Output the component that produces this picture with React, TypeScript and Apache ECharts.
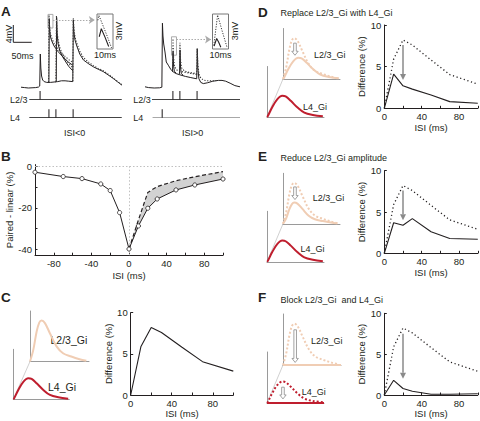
import React, { useEffect, useRef } from "react";
import * as echarts from "echarts";

const FONT = "'Liberation Sans', Arial, Helvetica, sans-serif";
const INK = "#231f20";
const PEACH = "#f0cdb4";
const RED = "#bf1e2e";
const GREY = "#9a9a9a";
const ARROW = "#8a8a8a";

// ---------- Panel A: stimulus times (ms) ----------
const aLeftL23Stim = [52];
const aLeftL4Stim = [76, 95, 142];
const aRightL4Stim = [47];
const aRightL23Stim = [76, 95, 142];

// ---------- Panel A: traces [time ms, mV] ----------
const aLeftPairedMain = [[0,0.2],[10,0.1],[20,0],[30,0.05],[40,0.1],[48,0.25],[51,0.5],[52.5,8.5],[54,5],[56,3],[59,2],[63,1.6],[70,1.4],[80,1.4],[90,1.5],[100,1.6],[110,1.8],[120,1.8],[130,1.7],[141,1.6],[142.5,17],[144,14],[147,12],[152,10.5],[160,8.5],[170,7],[185,6],[197,5.3],[210,4.7],[224,4.1],[240,3.1],[251,2.4],[262,1.6],[275,0.7]];
const aLeftPairedIsi1 = [[74,1.4],[76,1.5],[77,17.3],[78.5,14],[81,12.5],[85,11.5],[90,10.5],[100,9.2],[110,8.2],[120,7.2],[130,6.4],[141,5.7]];
const aLeftPairedIsi2 = [[94,1.5],[96,1.6],[97,17.6],[98.5,13.5],[101,11],[106,9.2],[112,8],[120,6.8],[130,5.4],[141,4.3]];
const aLeftLinearIsi1 = [[75,1.5],[76.3,18.2],[78,15],[81,13.3],[85,12.2],[90,11.2],[100,9.8],[110,8.8],[120,7.9],[130,7.1],[141,6.4]];
const aLeftLinearIsi2 = [[95,1.6],[96.5,18.1],[98,14.5],[101,12],[106,10],[112,8.6],[120,7.3],[130,6.1],[141,5.1]];
const aLeftLinearIsi3 = [[141,1.7],[142.3,17.6],[144,15],[147,12.8],[152,11.2],[160,9.2],[170,7.6],[185,6.4],[197,5.6],[210,4.9],[224,4.3],[240,3.3],[251,2.5],[262,1.7],[275,0.8]];
const aLeftInsetPaired = [[1.4,3.5],[2.7,5.8],[5,3.4],[7.3,0.7]];
const aLeftInsetLinear = [[0.5,8.2],[1.2,9.6],[4,6.4],[6.5,3.5],[9.1,0.3]];

const aRightPairedMain = [[0,0.3],[10,0.1],[25,0],[40,0.05],[46,0.2],[47.5,16.2],[49,13],[51,11],[54.5,9],[58,6.5],[63.5,5.7],[70,4.7],[77,4],[85,3.6],[95,3.3],[110,2.9],[125,2.6],[141,2.3],[142.5,9.8],[144,5],[147,2.3],[152,1.4],[159,1.1],[170,1.3],[185,1.7],[200,1.9],[210,1.9],[220,1.7],[232,1.2],[245,0.6],[259,0.3]];
const aRightPairedIsi1 = [[75,4.1],[76.5,9],[78,5.5],[80,4.2],[85,3.7]];
const aRightPairedIsi2 = [[94,3.4],[95.5,9.5],[97,5],[99,3.6],[104,3.2]];
const aRightLinearIsi1 = [[75,4.1],[76.3,12.3],[78,7.5],[81,5.2],[88,4.4],[100,4.1],[115,3.8],[130,3.6],[141,3.4]];
const aRightLinearIsi2 = [[94,3.5],[95.3,11.3],[97,7],[100,5],[108,4.2],[120,3.9],[141,3.6]];
const aRightLinearIsi3 = [[141,3.3],[142.3,10],[144,6],[147,3.5],[152,2.5],[159,2],[170,1.8],[185,1.8],[200,1.9]];
const aRightInsetPaired = [[1,0.8],[2.6,3],[3.8,2],[5.2,0.5]];
const aRightInsetLinear = [[0.8,1],[3.2,9.7],[6,5.2],[9.2,0.3]];

// ---------- Panel B ----------
const bIsi = [-100, -70, -50, -30, -20, -10, 0, 10, 20, 30, 50, 70, 100];
const bPaired = [-2.7, -4.8, -5.8, -8.4, -11.6, -22.3, -40, -28.8, -20.2, -15.7, -11.3, -8.9, -6];
const bIsiPos = [0, 10, 20, 30, 50, 70, 100];
const bNoL23 = [-40, -25.9, -12.5, -9.7, -6.8, -4.9, -2.4];
const bYTicks = [-40, -30, -20, -10, 0];
const bYLabels = [-40, -20, 0];

// ---------- Panels C-F: difference (%) ----------
const diffIsi = [0, 10, 20, 30, 50, 70, 100];
const diffControl = [0, 5.9, 8.2, 7.6, 5.8, 4.05, 2.9];
const diffReplace = [0, 4.1, 2.7, 2.3, 1.6, 0.8, 0.6];
const diffReduce = [0, 3.7, 3.4, 4.2, 2.6, 1.8, 1.7];
const diffBlock = [0, 1.8, 0.8, 0.45, 0.1, 0.1, 0.15];
// arrows: [isi, from, to]
const arrowD = [[20, 7.6, 3.4]];
const arrowE = [[20, 7.6, 4.0]];
const arrowF = [[20, 7.5, 2.0]];

// ---------- inhibitory conductance sketches [t, amplitude] ----------
const l23Gi = [[0,0],[5.6,23],[11.2,59],[15.7,77],[19.7,81],[25.3,76],[33.7,56],[45,30],[56,16.4],[70,9.9],[84,4.6],[95.5,1.3]];
const l23GiReduced = [[0,0],[5.6,11],[11.2,29],[15.7,39],[19.7,42],[25.3,40],[33.7,30],[45,16],[56,9],[70,5.4],[84,2.5],[95.5,0.7]];
const l4Gi = [[0,0],[1.2,1.3],[8.9,18.7],[17.9,35],[26.8,42],[32.7,40.7],[41.7,32],[53.6,18.7],[65.5,8.7],[80.4,4],[98,1.3]];
const blockedGi = [[0,0],[100,0]];
const insetArrowD = [[21, 71, 47]];
const insetArrowE = [[21, 73, 48]];
const insetArrowF = [[21, 69, 5]];
const insetArrowFLow = [[28, 31, 8]];

function buildOption() {
  const grids: any[] = [];
  const xAxes: any[] = [];
  const yAxes: any[] = [];
  const series: any[] = [];
  const graphics: any[] = [];

  const addGrid = (rect: any, xa: any, ya: any, gridExtra: any = {}) => {
    const i = grids.length;
    grids.push({ ...rect, containLabel: false, outerBoundsMode: "none", show: false, ...gridExtra });
    xAxes.push({ type: "value", gridIndex: i, ...xa });
    yAxes.push({ type: "value", gridIndex: i, ...ya });
    return i;
  };
  const hidden = (min: number, max: number, extra: any = {}) => ({ min, max, show: false, ...extra });
  const insetAxis = (min: number, max: number) => ({
    min, max, show: true,
    axisLine: { show: true, onZero: false, lineStyle: { color: GREY, width: 1 } },
    axisTick: { show: false }, axisLabel: { show: false }, splitLine: { show: false },
  });
  const line = (idx: number, data: any, color: string, width: number, type: any, z = 2, smooth: any = false) => ({
    type: "line", xAxisIndex: idx, yAxisIndex: idx, data, symbol: "none", showSymbol: false,
    silent: true, smooth, z, lineStyle: { color, width, type },
  });
  const text = (x: number, y: number, t: string, size: number, extra: any = {}, styleExtra: any = {}) => {
    graphics.push({
      type: "text", x, y, silent: true, ...extra,
      style: { text: t, fontSize: size, fontFamily: FONT, fill: INK, align: "left", verticalAlign: "middle", ...styleExtra },
    });
  };
  const gline = (x1: number, y1: number, x2: number, y2: number, stroke: string, w: number) => {
    graphics.push({ type: "line", silent: true, shape: { x1, y1, x2, y2 }, style: { stroke, lineWidth: w } });
  };
  const arrowSeries = (idx: number, arrows: any, hollow: boolean) => ({
    type: "custom", xAxisIndex: idx, yAxisIndex: idx, silent: true, z: 10,
    data: arrows, encode: { x: 0, y: [1, 2] },
    renderItem: (_p: any, api: any) => {
      const a = api.coord([api.value(0), api.value(1)]);
      const b = api.coord([api.value(0), api.value(2)]);
      const x = a[0], y1 = a[1], y2 = b[1];
      if (hollow) {
        const sw = 1.3, hw = 3.2, hl = 4;
        return {
          type: "polygon",
          shape: { points: [[x - sw, y1], [x + sw, y1], [x + sw, y2 - hl], [x + hw, y2 - hl], [x, y2], [x - hw, y2 - hl], [x - sw, y2 - hl]] },
          style: { fill: "#fff", stroke: ARROW, lineWidth: 0.8 },
        };
      }
      const hw = 3, hl = 6;
      return {
        type: "group",
        children: [
          { type: "line", shape: { x1: x, y1, x2: x, y2: y2 - hl }, style: { stroke: ARROW, lineWidth: 1.5 } },
          { type: "polygon", shape: { points: [[x - hw, y2 - hl], [x + hw, y2 - hl], [x, y2]] }, style: { fill: ARROW } },
        ],
      };
    },
  });

  // ================= Panel A =================
  const traceY = hidden(-0.5, 18.5);
  const aL = addGrid({ left: 21, top: 14, width: 101, height: 76 }, hidden(0, 275), traceY);
  series.push(line(aL, aLeftPairedMain, INK, 1, "solid", 2));
  series.push(line(aL, aLeftPairedIsi1, INK, 1, "solid", 2));
  series.push(line(aL, aLeftPairedIsi2, INK, 1, "solid", 2));
  series.push({
    ...line(aL, aLeftLinearIsi1, "#3a3a3a", 1.1, [1.2, 1.6], 3),
    markArea: { silent: true, itemStyle: { color: "rgba(0,0,0,0)", borderColor: "#aaa", borderWidth: 1 }, data: [[{ coord: [73.5, 18.4] }, { coord: [87, 15] }]] },
    markLine: { silent: true, symbol: ["none", "arrow"], symbolSize: 6, label: { show: false }, lineStyle: { color: "#aaa", type: [1.5, 1.5], width: 1 }, data: [[{ coord: [87, 17] }, { coord: [201, 17] }]] },
  });
  series.push(line(aL, aLeftLinearIsi2, "#3a3a3a", 1.1, [1.2, 1.6], 3));
  series.push(line(aL, aLeftLinearIsi3, "#3a3a3a", 1.1, [1.2, 1.6], 3));

  const aLi = addGrid({ left: 97, top: 14, width: 16, height: 35 }, hidden(0, 10), hidden(0, 10), { show: true, borderColor: "#777", borderWidth: 1, backgroundColor: "#fff" });
  series.push(line(aLi, aLeftInsetLinear, "#3a3a3a", 1, [1.2, 1.4], 3));
  series.push(line(aLi, aLeftInsetPaired, INK, 1.1, "solid", 3));

  const rasterY = { min: 0, max: 28, inverse: true, show: false };
  const aLr = addGrid({ left: 21, top: 90, width: 101, height: 28 }, hidden(0, 275), rasterY);
  const rasterRows = (idx: number, l23: number[], l4: number[], l23Range: number[], l4Range: number[], l4Color: string) => {
    series.push(line(idx, [[l23Range[0], 9.5], [l23Range[1], 9.5]], "#444", 1, "solid", 2));
    series.push(line(idx, [[l4Range[0], 27.5], [l4Range[1], 27.5]], l4Color, 1, "solid", 2));
    series.push({
      type: "scatter", xAxisIndex: idx, yAxisIndex: idx, silent: true, symbol: "rect", symbolSize: [1.3, 8.5],
      itemStyle: { color: INK }, data: [...l23.map((t) => [t, 5.25]), ...l4.map((t) => [t, 23.5])], z: 3,
    });
  };
  rasterRows(aLr, aLeftL23Stim, aLeftL4Stim, [22.6, 274.4], [22.6, 274.4], "#444");

  const aR = addGrid({ left: 145, top: 14, width: 95, height: 76 }, hidden(0, 259), traceY);
  series.push(line(aR, aRightPairedMain, INK, 1, "solid", 2));
  series.push(line(aR, aRightPairedIsi1, INK, 1, "solid", 2));
  series.push(line(aR, aRightPairedIsi2, INK, 1, "solid", 2));
  series.push({
    ...line(aR, aRightLinearIsi1, "#3a3a3a", 1.1, [1.2, 1.6], 3),
    markArea: { silent: true, itemStyle: { color: "rgba(0,0,0,0)", borderColor: "#aaa", borderWidth: 1 }, data: [[{ coord: [72.2, 12.8] }, { coord: [85.8, 8.2] }]] },
    markLine: { silent: true, symbol: ["none", "arrow"], symbolSize: 6, label: { show: false }, lineStyle: { color: "#aaa", type: [1.5, 1.5], width: 1 }, data: [[{ coord: [85.8, 12.1] }, { coord: [180, 12.1] }]] },
  });
  series.push(line(aR, aRightLinearIsi2, "#3a3a3a", 1.1, [1.2, 1.6], 3));
  series.push(line(aR, aRightLinearIsi3, "#3a3a3a", 1.1, [1.2, 1.6], 3));

  const aRi = addGrid({ left: 212.5, top: 14, width: 16, height: 35 }, hidden(0, 10), hidden(0, 10), { show: true, borderColor: "#777", borderWidth: 1, backgroundColor: "#fff" });
  series.push(line(aRi, aRightInsetLinear, "#3a3a3a", 1, [1.2, 1.4], 3));
  series.push(line(aRi, aRightInsetPaired, INK, 1.1, "solid", 3));

  const aRr = addGrid({ left: 145, top: 90, width: 95, height: 28 }, hidden(0, 259), rasterY);
  rasterRows(aRr, aRightL23Stim, aRightL4Stim, [19, 259], [20.7, 259], "#a8a8a8");

  // ================= Panel B =================
  const tickFont = { fontSize: 9.5, color: INK, fontFamily: FONT };
  const bIdx = addGrid(
    { left: 35, top: 164.6, width: 188, height: 90.6 },
    {
      min: -100, max: 100, interval: 20,
      name: "ISI (ms)", nameLocation: "middle", nameGap: 15, nameTextStyle: tickFont,
      axisLine: { onZero: false, lineStyle: { color: INK, width: 1 } },
      axisTick: { inside: true, length: 2.5, lineStyle: { color: INK } },
      axisLabel: { ...tickFont, margin: 3, formatter: (v: number) => (v % 40 === 0 ? String(v) : "") },
      splitLine: { show: false },
    },
    {
      min: -43, max: 1,
      name: "Paired - linear (%)", nameLocation: "middle", nameGap: 19, nameTextStyle: tickFont,
      axisLine: { onZero: false, lineStyle: { color: INK, width: 1 } },
      axisTick: { inside: true, length: 2.5, lineStyle: { color: INK }, customValues: bYTicks },
      axisLabel: { ...tickFont, margin: 3, customValues: bYLabels },
      splitLine: { show: false },
    }
  );
  series.push({
    type: "custom", xAxisIndex: bIdx, yAxisIndex: bIdx, silent: true, z: 1, data: [[0, 0]],
    renderItem: (_p: any, api: any) => {
      const pts: number[][] = [];
      bIsiPos.forEach((x, i) => pts.push(api.coord([x, bNoL23[i]])));
      for (let i = bIsi.length - 1; i >= 0; i--) {
        if (bIsi[i] >= 0) pts.push(api.coord([bIsi[i], bPaired[i]]));
      }
      return { type: "polygon", shape: { points: pts }, style: { fill: "#d2d2d2", stroke: "none" } };
    },
  });
  series.push({
    ...line(bIdx, bIsiPos.map((x, i) => [x, bNoL23[i]]), INK, 1.2, [4, 2.5], 3),
  });
  series.push({
    type: "line", xAxisIndex: bIdx, yAxisIndex: bIdx, silent: true, z: 4,
    data: bIsi.map((x, i) => [x, bPaired[i]]),
    symbol: "circle", symbolSize: 4.2, showSymbol: true,
    lineStyle: { color: INK, width: 1 },
    itemStyle: { color: "#fff", borderColor: INK, borderWidth: 0.8 },
    markLine: {
      silent: true, symbol: "none", label: { show: false }, z: 1,
      lineStyle: { color: "#c0c0c0", type: [1.5, 2], width: 1 },
      data: [{ yAxis: 0 }, { xAxis: 0 }],
    },
  });

  // ================= Panels C-F =================
  const diffX = (extra: any = {}) => ({
    min: 0, max: 100, interval: 20,
    name: "ISI (ms)", nameLocation: "middle", nameGap: 13, nameTextStyle: tickFont,
    axisLine: { onZero: false, lineStyle: { color: INK, width: 1 } },
    axisTick: { inside: true, length: 2.5, lineStyle: { color: INK } },
    axisLabel: { ...tickFont, margin: 3, formatter: (v: number) => (v % 40 === 0 ? String(v) : "") },
    splitLine: { show: false }, ...extra,
  });
  const diffY = () => ({
    min: 0, max: 10, interval: 5,
    name: "Difference (%)", nameLocation: "middle", nameGap: 15, nameTextStyle: tickFont,
    axisLine: { onZero: false, lineStyle: { color: INK, width: 1 } },
    axisTick: { inside: true, length: 2.5, lineStyle: { color: INK } },
    axisLabel: { ...tickFont, margin: 3 },
    splitLine: { show: false },
  });
  const diffSeries = (idx: number, values: number[], dotted: boolean) =>
    line(idx, diffIsi.map((x, i) => [x, values[i]]), INK, dotted ? 1.3 : 1.1, dotted ? [1.2, 2.6] : "solid", dotted ? 2 : 3);

  const insetPair = (upper: any, lower: any, upperSeries: any[], lowerSeries: any[], arrowsUp: any, arrowsLow: any) => {
    const u = addGrid({ left: upper[0], top: upper[1], width: upper[2], height: upper[3] }, insetAxis(0, 100), insetAxis(0, 100));
    const l = addGrid({ left: lower[0], top: lower[1], width: lower[2], height: lower[3] }, insetAxis(0, 100), insetAxis(0, 100));
    upperSeries.forEach((s) => series.push(line(u, s.data, PEACH, 2, s.dotted ? [2, 2] : "solid", s.dotted ? 3 : 4, 0.35)));
    lowerSeries.forEach((s) => series.push(line(l, s.data, RED, 2, s.dotted ? [2, 2] : "solid", s.dotted ? 3 : 4, 0.35)));
    if (arrowsUp) series.push(arrowSeries(u, arrowsUp, true));
    if (arrowsLow) series.push(arrowSeries(l, arrowsLow, true));
    gline(lower[0], lower[1] + lower[3], upper[0], upper[1] + upper[3], "#c4c4c4", 0.8);
  };

  // C
  const cIdx = addGrid({ left: 130.7, top: 312.7, width: 102.6, height: 82.3 }, diffX(), diffY());
  series.push(diffSeries(cIdx, diffControl, false));
  insetPair([30, 311, 59, 50.5], [13.3, 349.3, 56, 50], [{ data: l23Gi }], [{ data: l4Gi }], null, null);

  // D
  const dIdx = addGrid({ left: 384.3, top: 25, width: 93.5, height: 83.3 }, diffX(), diffY());
  series.push(diffSeries(dIdx, diffControl, true));
  series.push(diffSeries(dIdx, diffReplace, false));
  series.push(arrowSeries(dIdx, arrowD, false));
  insetPair([283, 28.5, 57, 50.5], [267, 66.5, 57, 50.5], [{ data: l23Gi, dotted: true }, { data: l4Gi }], [{ data: l4Gi }], insetArrowD, null);

  // E
  const eIdx = addGrid({ left: 384.3, top: 170.7, width: 93.5, height: 82.6 }, diffX(), diffY());
  series.push(diffSeries(eIdx, diffControl, true));
  series.push(diffSeries(eIdx, diffReduce, false));
  series.push(arrowSeries(eIdx, arrowE, false));
  insetPair([283, 173.3, 57, 50.5], [267, 211.3, 57, 50.5], [{ data: l23Gi, dotted: true }, { data: l23GiReduced }], [{ data: l4Gi }], insetArrowE, null);

  // F
  const fIdx = addGrid({ left: 384.3, top: 313.3, width: 93.5, height: 81.7 }, diffX(), diffY());
  series.push(diffSeries(fIdx, diffControl, true));
  series.push(diffSeries(fIdx, diffBlock, false));
  series.push(arrowSeries(fIdx, arrowF, false));
  insetPair([283, 314, 58, 51], [267, 352, 57, 51], [{ data: l23Gi, dotted: true }, { data: blockedGi }], [{ data: l4Gi, dotted: true }, { data: blockedGi }], insetArrowF, insetArrowFLow);

  // ================= texts & annotations =================
  const bold = { fontWeight: "bold" };
  text(1, 11, "A", 13.5, {}, bold);
  text(1, 156, "B", 13.5, {}, bold);
  text(1, 297, "C", 13.5, {}, bold);
  text(258, 12, "D", 13.5, {}, bold);
  text(258, 156, "E", 13.5, {}, bold);
  text(258, 297.5, "F", 13.5, {}, bold);
  text(280.5, 13, "Replace L2/3_Gi with L4_Gi", 9);
  text(280.5, 157.5, "Reduce L2/3_Gi amplitude", 9);
  text(280.5, 299.5, "Block L2/3_Gi  and L4_Gi", 9);

  // scale bars
  gline(13.3, 25, 13.3, 42.3, INK, 1);
  gline(13.3, 42.3, 31.7, 42.3, INK, 1);
  text(8.5, 34, "4mV", 9, { rotation: Math.PI / 2 }, { align: "center" });
  text(22.5, 56, "50ms", 9, {}, { align: "center" });
  text(119, 31, "3mV", 9, { rotation: Math.PI / 2 }, { align: "center" });
  text(235, 31, "3mV", 9, { rotation: Math.PI / 2 }, { align: "center" });
  text(105, 54.5, "10ms", 9, {}, { align: "center" });
  text(220.5, 54.5, "10ms", 9, {}, { align: "center" });

  text(10, 99.5, "L2/3", 9);
  text(10, 117.5, "L4", 9);
  text(133.3, 99.5, "L2/3", 9);
  text(133.3, 117.5, "L4", 9);
  text(74.7, 132.7, "ISI<0", 9, {}, { align: "center" });
  text(192.5, 132.7, "ISI>0", 9, {}, { align: "center" });

  // inset labels
  text(50.5, 340, "L2/3_Gi", 10.5);
  text(48, 387.3, "L4_Gi", 10.5);
  text(314, 55, "L2/3_Gi", 9);
  text(303, 107, "L4_Gi", 9);
  text(312.7, 198.3, "L2/3_Gi", 9);
  text(300.5, 249, "L4_Gi", 9);
  text(311, 340.7, "L2/3_Gi", 9);
  text(301.7, 392, "L4_Gi", 9);

  return {
    animation: false,
    backgroundColor: "#fff",
    textStyle: { fontFamily: FONT },
    grid: grids,
    xAxis: xAxes,
    yAxis: yAxes,
    series,
    graphic: graphics,
  };
}

export default function App() {
  const ref = useRef<HTMLDivElement>(null);
  useEffect(() => {
    if (!ref.current) return;
    const chart = echarts.init(ref.current, undefined, { renderer: "svg" });
    chart.setOption(buildOption() as any);
    return () => chart.dispose();
  }, []);
  return (
    <div
      ref={ref}
      style={{ position: "absolute", left: 0, top: 0, width: 480, height: 421, background: "#fff" }}
    />
  );
}
